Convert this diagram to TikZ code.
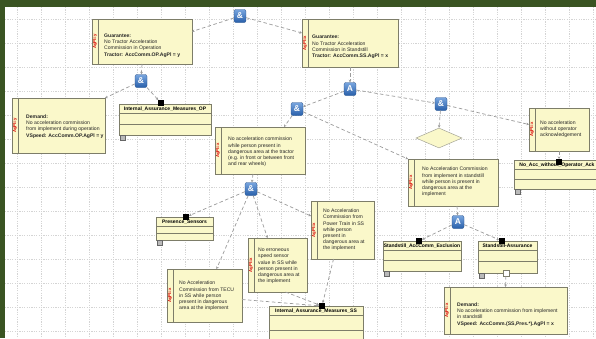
\documentclass[tikz,border=0pt]{standalone}
\usepackage{fontspec}
\setmainfont{Liberation Sans}
\usetikzlibrary{arrows.meta,shapes.geometric}

\definecolor{goalfill}{RGB}{250,248,202}
\definecolor{boxedge}{RGB}{125,125,105}
\definecolor{linkgray}{RGB}{155,155,155}
\definecolor{framegreen}{RGB}{58,84,34}
\definecolor{iconTop}{RGB}{120,165,222}
\definecolor{iconBot}{RGB}{40,95,170}
\definecolor{gridgray}{RGB}{212,212,212}

\tikzset{
  goalbox/.style={draw=boxedge, fill=goalfill, line width=0.6pt, inner sep=0pt, outer sep=0pt},
  classbox/.style={draw=boxedge, fill=goalfill, line width=0.6pt, inner sep=0pt, outer sep=0pt},
  gtext/.style={font=\fontsize{5.1}{6.2}\selectfont, align=left, anchor=west, inner sep=0pt, text=black!85},
  redlbl/.style={font=\fontsize{4.3}{4.5}\selectfont\bfseries, text=red!85!black, rotate=90, inner sep=0pt},
  ctitle/.style={font=\fontsize{5}{6}\selectfont\bfseries, inner sep=0pt},
  port/.style={fill=black, minimum size=6pt, inner sep=0pt, outer sep=0pt},
  openport/.style={fill=white, draw=boxedge, line width=0.5pt, minimum size=6pt, inner sep=0pt, outer sep=0pt},
  gateicon/.style={rounded corners=2pt, top color=iconTop, bottom color=iconBot, draw=iconBot!80!black,
    line width=0.3pt, minimum width=12pt, minimum height=13pt, inner sep=0pt, text=white,
    font=\fontsize{8.5}{8.5}\selectfont\bfseries},
  decision/.style={diamond, draw=boxedge!70, fill=goalfill, line width=0.5pt, inner sep=0pt,
    minimum width=46pt, minimum height=20pt},
  link/.style={draw=linkgray, dash pattern=on 3.5pt off 2.5pt, line width=0.7pt,
    -{Stealth[length=2.6pt,width=2.6pt]}},
  classicon/.style={fill=gray!55, draw=gray!80!black, minimum size=4.5pt, inner sep=0pt, line width=0.3pt},
}

% goal box: name, x1, y1, x2, y2, red side label
\newcommand\goalnode[6]{%
  \node[goalbox, minimum width={#4-#2}, minimum height={#5-#3}] (#1) at ({(#2+#4)/2},{(#3+#5)/2}) {};
  \draw[boxedge, line width=0.6pt] ([xshift=6pt]#1.north west) -- ([xshift=6pt]#1.south west);
  \node[redlbl] at ([xshift=3pt]#1.west) {#6};
}
% class box: name, x1, y1, x2, y2, title
\newcommand\classnode[6]{%
  \node[classbox, minimum width={#4-#2}, minimum height={#5-#3}] (#1) at ({(#2+#4)/2},{(#3+#5)/2}) {};
  \draw[boxedge, line width=0.5pt] ([yshift=-9pt]#1.north west) -- ([yshift=-9pt]#1.north east);
  \draw[boxedge, line width=0.5pt] ([yshift={-9-(#5-#3-9)/2}]#1.north west) -- ([yshift={-9-(#5-#3-9)/2}]#1.north east);
  \node[ctitle] at ([yshift=-4.8pt]#1.north) {#6};
  \node[classicon] at ([xshift=3.5pt,yshift=-2.5pt]#1.south west) {};
}

\begin{document}
\begin{tikzpicture}[x=1pt,y=-1pt]
\useasboundingbox (0,0) rectangle (596,338);
\clip (0,0) rectangle (596,338);

% canvas, grid and frame
\fill[white] (0,0) rectangle (596,338);
\foreach \gx in {17,41,...,596} \draw[gridgray, line width=0.35pt, dash pattern=on 1.2pt off 1.2pt] (\gx,7) -- (\gx,338);
\foreach \gy in {19,43,...,338} \draw[gridgray, line width=0.35pt, dash pattern=on 1.2pt off 1.2pt] (5,\gy) -- (596,\gy);
\fill[framegreen] (0,0) rectangle (596,6.5);
\fill[framegreen] (0,0) rectangle (5,338);

% ---------- upper level ----------
\node[gateicon] (and0) at (240,16) {\&};

\goalnode{g1}{92}{19}{192}{64}{AgPl=y}
\node[gtext] at (104,45.5) {\textbf{Guarantee:}\\No Tractor Acceleration\\Commission in Operation\\\textbf{Tractor: AccComm.OP.AgPl = y}};

\goalnode{g2}{302}{19}{398}{67}{AgPl=x}
\node[gtext] at (312,47) {\textbf{Guarantee:}\\No Tractor Acceleration\\Commission in Standstill\\\textbf{Tractor: AccComm.SS.AgPl = x}};

\node[gateicon] (and1) at (141,81) {\&};

\goalnode{dem1}{12}{98}{105}{153}{AgPl=y}
\node[gtext] at (26,126.5) {\textbf{Demand:}\\No acceleration commission\\from implement during operation\\\textbf{VSpeed: AccComm.OP.AgPl = y}};

\classnode{iop}{119}{104}{211}{135}{Internal\_Assurance\_Measures\_OP}
\node[port] (iopP) at (161,103) {};

\node[gateicon] (aA) at (350,89) {A};
\node[gateicon] (and2) at (297,109) {\&};
\node[gateicon] (and3) at (441,104) {\&};

\node[decision] (dia) at (439,138) {};

\goalnode{woa}{529}{108}{589}{151}{AgPl=x}
\node[gtext] at (540,129) {No acceleration\\without operator\\acknowledgement};

\classnode{noack}{514}{160}{600}{189}{No\_Acc\_without\_Operator\_Ack}
\node[port] (noackP) at (559,162) {};

\goalnode{tract}{215}{127}{305}{174}{AgPl=x}
\node[gtext] at (228,152) {No acceleration commission\\while person present in\\dangerous area at the tractor\\(e.g. in front or between front\\and rear wheels)};

\goalnode{nass}{408}{159}{498}{206}{AgPl=x}
\node[gtext] at (422,182) {No Acceleration Commission\\from implement in standstill\\while person is present in\\dangerous area at the\\implement};

% ---------- standstill branch ----------
\node[gateicon] (aA2) at (458,222) {A};

\classnode{excl}{383}{241}{461}{271}{Standstill\_AccComm\_Exclusion}
\node[port] (exclP) at (419,241) {};

\classnode{sass}{478}{241}{537}{273}{Standstill-Assurance}
\node[port] (sassP) at (502,241) {};
\node[openport] (sassO) at (506,273) {};

\goalnode{dem2}{444}{287}{567}{334}{AgPl=x}
\node[gtext] at (457,314.5) {\textbf{Demand:}\\No acceleration commission from implement\\in standstill\\\textbf{VSpeed: AccComm.(SS,Pres.*).AgPl = x}};

% ---------- person-presence branch ----------
\node[gateicon] (and4) at (251,189) {\&};

\classnode{pres}{156}{217}{213}{240}{Presence\_Sensors}
\node[port] (presP) at (186,217) {};

\goalnode{err}{248}{238}{307}{292}{AgPl=x}
\node[gtext] at (258,266) {No erroneous\\speed sensor\\value in SS while\\person present in\\dangerous area at\\the implement};

\goalnode{ptr}{311}{201}{374}{259}{AgPl=x}
\node[gtext] at (323,230) {No Acceleration\\Commission from\\Power Train in SS\\while person\\present in\\dangerous area at\\the implement};

\goalnode{tecu}{167}{269}{242}{322}{AgPl=x}
\node[gtext] at (179,296) {No Acceleration\\Commission from TECU\\in SS while person\\present in dangerous\\area at the implement};

\classnode{iss}{269}{306}{363}{346}{Internal\_Assurance\_Measures\_SS}
\node[port] (issP) at (322,306) {};

% ---------- connectors ----------
\draw[link] (and0) -- ([yshift=10pt]g1.east);
\draw[link] (and0) -- ([yshift=10pt]g2.west);
\draw[link] (g1.south) -- (and1);
\draw[link] (and1) -- (dem1.north east);
\draw[link] (and1) -- (iopP);
\draw[link] (g2.south) -- (aA);
\draw[link] (aA) -- (and2);
\draw[link] (aA) -- (and3);
\draw[link] (and2) -- ([xshift=-21pt]tract.north east);
\draw[link] (and2) -- (nass.north west);
\draw[link] (and3) -- (dia.north);
\draw[link] (and3) -- ([yshift=5pt]woa.west);
\draw[link] (woa.south) -- (noackP);
\draw[link] ([xshift=-7pt]tract.south) -- (and4);
\draw[link] (and4) -- (presP);
\draw[link] (and4) -- ([xshift=12pt]tecu.north);
\draw[link] (and4) -- ([xshift=-10pt]err.north);
\draw[link] (and4) -- ([yshift=14pt]ptr.west);
\draw[link] ([xshift=4pt]nass.south) -- (aA2);
\draw[link] (aA2) -- (exclP);
\draw[link] (aA2) -- (sassP);
\draw[link] (sassO) -- (dem2.north);
\draw[link] ([yshift=-4pt]tecu.east) -- (issP);
\draw[link] ([xshift=8pt]err.south) -- (issP);
\draw[link] ([xshift=-9pt]ptr.south) -- (issP);
\end{tikzpicture}
\end{document}
